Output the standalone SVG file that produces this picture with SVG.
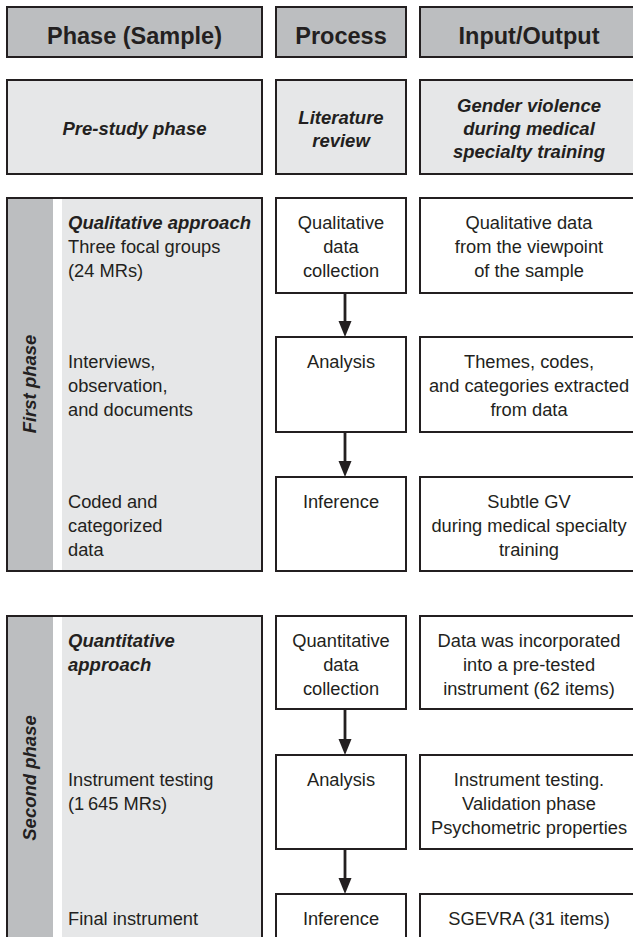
<svg xmlns="http://www.w3.org/2000/svg" width="633" height="937" viewBox="0 0 633 937">
<style>
.hdr{fill:#bcbec0;stroke:#231f20;stroke-width:2}
.lt{fill:#e6e7e8;stroke:#231f20;stroke-width:2}
.wb{fill:#ffffff;stroke:#231f20;stroke-width:2}
.ol{fill:none;stroke:#231f20;stroke-width:2}
.strip{fill:#bcbec0}
.gap{fill:#ffffff}
text{font-family:"Liberation Sans",Arial,Helvetica,sans-serif;fill:#231f20}
.h{font-size:23.5px;font-weight:bold;text-anchor:middle}
.bi{font-size:18.5px;font-weight:bold;font-style:italic}
.r{font-size:18.3px}
.c{text-anchor:middle}
.conn{stroke:#231f20;stroke-width:2.8;fill:none}
.head{fill:#231f20}
</style>
<rect width="633" height="937" fill="#ffffff"/>

<g id="hdr-phase"><rect class="hdr" x="7" y="7" width="255" height="50"/><text class="h" x="134.5" y="43.5">Phase (Sample)</text></g>
<g id="hdr-process"><rect class="hdr" x="276" y="7" width="130" height="50"/><text class="h" x="341" y="43.5">Process</text></g>
<g id="hdr-io"><rect class="hdr" x="420" y="7" width="220" height="50"/><text class="h" x="529" y="43.5">Input/Output</text></g>

<g id="pre-phase"><rect class="lt" x="7" y="80" width="255" height="94"/><text class="bi c" x="134.5" y="135">Pre-study phase</text></g>
<g id="pre-process"><rect class="lt" x="276" y="80" width="130" height="94"/><text class="bi c" x="341" y="123.5">Literature</text><text class="bi c" x="341" y="146.5">review</text></g>
<g id="pre-io"><rect class="lt" x="420" y="80" width="220" height="94"/><text class="bi c" x="529" y="112">Gender violence</text><text class="bi c" x="529" y="135">during medical</text><text class="bi c" x="529" y="158">specialty training</text></g>

<g id="first-phase">
<rect class="lt" x="7" y="198" width="255" height="373"/>
<rect class="strip" x="8" y="199" width="45" height="371"/>
<rect class="gap" x="53" y="199" width="9" height="371"/>
<rect class="ol" x="7" y="198" width="255" height="373"/>
<text class="bi c" transform="translate(35.5 384) rotate(-90)" x="0" y="0">First phase</text>
<text class="bi" x="68" y="229">Qualitative approach</text>
<text class="r" x="68" y="253">Three focal groups</text>
<text class="r" x="68" y="277">(24 MRs)</text>
<text class="r" x="68" y="368">Interviews,</text>
<text class="r" x="68" y="392">observation,</text>
<text class="r" x="68" y="416">and documents</text>
<text class="r" x="68" y="508">Coded and</text>
<text class="r" x="68" y="532">categorized</text>
<text class="r" x="68" y="556">data</text>
</g>

<g id="p1-collection"><rect class="wb" x="276" y="198" width="130" height="95"/><text class="r c" x="341" y="229">Qualitative</text><text class="r c" x="341" y="253">data</text><text class="r c" x="341" y="277">collection</text></g>
<g id="io1-collection"><rect class="wb" x="420" y="198" width="220" height="95"/><text class="r c" x="529" y="229">Qualitative data</text><text class="r c" x="529" y="253">from the viewpoint</text><text class="r c" x="529" y="277">of the sample</text></g>
<g id="p1-analysis"><rect class="wb" x="276" y="337" width="130" height="95"/><text class="r c" x="341" y="368">Analysis</text></g>
<g id="io1-analysis"><rect class="wb" x="420" y="337" width="220" height="95"/><text class="r c" x="529" y="368">Themes, codes,</text><text class="r c" x="529" y="392">and categories extracted</text><text class="r c" x="529" y="416">from data</text></g>
<g id="p1-inference"><rect class="wb" x="276" y="477" width="130" height="94"/><text class="r c" x="341" y="508">Inference</text></g>
<g id="io1-inference"><rect class="wb" x="420" y="477" width="220" height="94"/><text class="r c" x="529" y="508">Subtle GV</text><text class="r c" x="529" y="532">during medical specialty</text><text class="r c" x="529" y="556">training</text></g>

<g id="second-phase">
<rect class="lt" x="7" y="616" width="255" height="326"/>
<rect class="strip" x="8" y="617" width="45" height="324"/>
<rect class="gap" x="53" y="617" width="9" height="324"/>
<rect class="ol" x="7" y="616" width="255" height="326"/>
<text class="bi c" transform="translate(35.5 778) rotate(-90)" x="0" y="0">Second phase</text>
<text class="bi" x="68" y="647">Quantitative</text>
<text class="bi" x="68" y="671">approach</text>
<text class="r" x="68" y="786">Instrument testing</text>
<text class="r" x="68" y="810">(1&#8201;645 MRs)</text>
<text class="r" x="68" y="925">Final instrument</text>
</g>

<g id="p2-collection"><rect class="wb" x="276" y="616" width="130" height="93"/><text class="r c" x="341" y="647">Quantitative</text><text class="r c" x="341" y="671">data</text><text class="r c" x="341" y="695">collection</text></g>
<g id="io2-collection"><rect class="wb" x="420" y="616" width="220" height="93"/><text class="r c" x="529" y="647">Data was incorporated</text><text class="r c" x="529" y="671">into a pre-tested</text><text class="r c" x="529" y="695">instrument (62 items)</text></g>
<g id="p2-analysis"><rect class="wb" x="276" y="755" width="130" height="94"/><text class="r c" x="341" y="786">Analysis</text></g>
<g id="io2-analysis"><rect class="wb" x="420" y="755" width="220" height="94"/><text class="r c" x="529" y="786">Instrument testing.</text><text class="r c" x="529" y="810">Validation phase</text><text class="r c" x="529" y="834">Psychometric properties</text></g>
<g id="p2-inference"><rect class="wb" x="276" y="894" width="130" height="60"/><text class="r c" x="341" y="925">Inference</text></g>
<g id="io2-inference"><rect class="wb" x="420" y="894" width="220" height="60"/><text class="r c" x="529" y="925">SGEVRA (31 items)</text></g>

<g id="connectors">
<line class="conn" x1="345" y1="293" x2="345" y2="324"/><polygon class="head" points="338.5,321 351.5,321 345,337"/>
<line class="conn" x1="345" y1="432" x2="345" y2="464"/><polygon class="head" points="338.5,461 351.5,461 345,477"/>
<line class="conn" x1="345" y1="709" x2="345" y2="742"/><polygon class="head" points="338.5,739 351.5,739 345,755"/>
<line class="conn" x1="345" y1="849" x2="345" y2="881"/><polygon class="head" points="338.5,878 351.5,878 345,894"/>
</g>
</svg>
